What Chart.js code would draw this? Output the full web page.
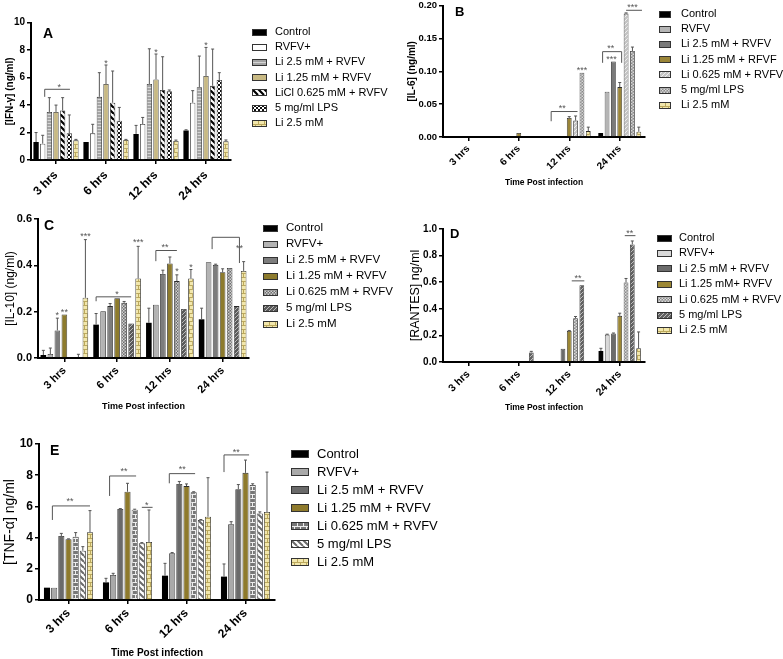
<!DOCTYPE html>
<html>
<head>
<meta charset="utf-8">
<script src="https://cdn.jsdelivr.net/npm/chart.js@4.4.1/dist/chart.umd.min.js"></script>
<style>
body { margin: 0; background: #fff; }
#page { position: relative; width: 783px; height: 659px; overflow: hidden; font-family: Arial, "Liberation Sans", sans-serif; }
#page canvas.chart { position: absolute; }
.tag { position: absolute; font-weight: bold; line-height: 1; color: #000; }
.leg { position: absolute; white-space: nowrap; color: #000; line-height: 1; }
</style>
</head>
<body>
<div id="page"></div>
<script>
const hours = ['3 hrs', '6 hrs', '12 hrs', '24 hrs'];

// A - IFN-gamma
const ifnLabels = ['Control', 'RVFV+', 'Li 2.5 mM + RVFV', 'Li 1.25 mM + RVFV', 'LiCl 0.625 mM + RVFV', '5 mg/ml LPS', 'Li 2.5 mM'];
const ifnMean = [
    [1.31, 1.31, 1.9, 2.14],
    [1.19, 1.94, 2.62, 4.17],
    [3.5, 4.6, 5.53, 5.3],
    [3.5, 5.53, 5.87, 6.12],
    [3.6, 4.17, 5.1, 5.41],
    [1.94, 2.86, 5.0, 5.83],
    [1.43, 1.46, 1.38, 1.36]
];
const ifnSd = [
    [0.69, 0, 0.62, 0.06],
    [0.61, 0.66, 0.48, 0.88],
    [1.04, 1.76, 2.57, 2.27],
    [0.5, 1.39, 1.85, 2.08],
    [0.94, 2.31, 2.42, 2.67],
    [1.34, 0.97, 0.1, 0.53],
    [0.07, 0.04, 0.07, 0.1]
];
// [hour, from bar, to bar, line y, left drop, right drop]
const ifnBrackets = [[0, 1.3, 5.1, 5.15, 4.6, null]];
// [hour, bar, y, text]
const ifnStars = [[0, 3.5, 5.45, '*'], [1, 3, 7.2, '*'], [2, 3, 8.0, '*'], [3, 3, 8.5, '*']];

// B - IL-6
const il6Labels = ['Control', 'RVFV', 'Li 2.5 mM + RVFV', 'Li 1.25 mM + RFVF', 'Li 0.625 mM + RVFV', '5 mg/ml LPS', 'Li  2.5 mM'];
const il6Mean = [
    [0, 0, 0, 0.006],
    [0, 0, 0, 0.069],
    [0, 0, 0, 0.115],
    [0, 0.006, 0.029, 0.076],
    [0, 0, 0.025, 0.188],
    [0, 0, 0.098, 0.131],
    [0, 0, 0.009, 0.008]
];
const il6Sd = [
    [0, 0, 0, 0],
    [0, 0, 0, 0],
    [0, 0, 0, 0],
    [0, 0, 0.002, 0.007],
    [0, 0, 0.007, 0.001],
    [0, 0, 0, 0.006],
    [0, 0, 0.006, 0.007]
];
const il6Brackets = [[2, 0.15, 4.3, 0.0388, 0.024, null], [3, 0.3, 3.3, 0.13, 0.113, 0.113], [3, 4, 6.5, 0.193, null, null]];
const il6Stars = [[2, 1.9, 0.046, '**'], [2, 5, 0.104, '***'], [3, 1.6, 0.138, '**'], [3, 1.7, 0.121, '***'], [3, 5, 0.2, '***']];

// C - IL-10
const il10Labels = ['Control', 'RVFV+', 'Li 2.5 mM + RVFV', 'Li 1.25 mM + RVFV', 'Li 0.625 mM + RVFV', '5 mg/ml LPS', 'Li 2.5 mM'];
const il10Mean = [
    [0.013, 0.144, 0.152, 0.167],
    [0.017, 0.202, 0.23, 0.413],
    [0.119, 0.224, 0.363, 0.402],
    [0.188, 0.258, 0.408, 0.37],
    [0.003, 0.238, 0.332, 0.389],
    [0.004, 0.149, 0.212, 0.224],
    [0.26, 0.343, 0.343, 0.376]
];
const il10Sd = [
    [0.02, 0.048, 0.063, 0.048],
    [0.026, 0, 0, 0],
    [0.053, 0.011, 0.016, 0.003],
    [0, 0, 0.028, 0.015],
    [0, 0.006, 0.027, 0],
    [0.012, 0, 0, 0],
    [0.251, 0.139, 0.039, 0.04]
];
const il10Brackets = [[1, 0, 5, 0.264, 0.245, null], [2, 1, 4, 0.464, 0.418, null], [3, 1.5, 5.4, 0.521, 0.47, 0.41]];
const il10Stars = [[0, 2, 0.19, '*'], [0, 3, 0.205, '**'], [0, 6, 0.535, '***'], [1, 3, 0.282, '*'], [1, 6, 0.507, '***'],
    [2, 2.3, 0.485, '**'], [2, 4, 0.382, '*'], [2, 6, 0.4, '*'], [3, 5.4, 0.482, '**']];

// D - RANTES
const rantesLabels = ['Control', 'RVFV+', 'Li 2.5 mM + RVFV', 'Li 1.25 mM+ RVFV', 'Li 0.625 mM + RVFV', '5 mg/ml LPS', 'Li 2.5 mM'];
const rantesMean = [
    [0, 0, 0, 0.083],
    [0, 0, 0, 0.206],
    [0, 0, 0.1, 0.214],
    [0, 0, 0.234, 0.347],
    [0, 0, 0.329, 0.598],
    [0, 0.072, 0.578, 0.884],
    [0.006, 0.004, 0.004, 0.103]
];
const rantesSd = [
    [0, 0, 0, 0.02],
    [0, 0, 0, 0.003],
    [0, 0, 0, 0.004],
    [0, 0, 0.003, 0.02],
    [0, 0, 0.013, 0.03],
    [0, 0.008, 0, 0.026],
    [0, 0, 0, 0.123]
];
const rantesBrackets = [[2, 3.4, 5.4, 0.61, null, null], [3, 3.8, 5.5, 0.95, null, null]];
const rantesStars = [[2, 4.4, 0.645, '**'], [3, 4.6, 0.978, '**']];

// E - TNF-alpha
const tnfLabels = ['Control', 'RVFV+', 'Li 2.5 mM + RVFV', 'Li 1.25 mM + RVFV', 'Li 0.625 mM + RVFV', '5 mg/ml LPS', 'Li 2.5 mM'];
const tnfMean = [
    [0.79, 1.13, 1.56, 1.5],
    [0.79, 1.6, 2.99, 4.85],
    [4.1, 5.83, 7.44, 7.1],
    [3.89, 6.94, 7.3, 8.15],
    [4.06, 5.79, 6.9, 7.37],
    [3.16, 3.63, 5.13, 5.55],
    [4.34, 3.72, 5.34, 5.64]
];
const tnfSd = [
    [0, 0.26, 0.79, 0.81],
    [0, 0.11, 0.05, 0.17],
    [0.17, 0.03, 0.16, 0.3],
    [0.03, 0.54, 0.14, 0.82],
    [0.26, 0.03, 0.04, 0.08],
    [0.26, 0.05, 0.03, 0.1],
    [1.39, 2.05, 2.5, 2.56]
];
const tnfBrackets = [[0, 0.75, 6, 6.03, 5.13, null], [1, 0.5, 4.2, 7.95, 6.67, null], [1, 5, 6.5, 5.94, null, null],
    [2, 0.6, 4.2, 8.1, 7.48, null], [3, 0, 3.5, 9.3, 8.2, null]];
const tnfStars = [[0, 3.2, 6.45, '**'], [1, 2.5, 8.35, '**'], [1, 5.7, 6.2, '*'], [2, 2.4, 8.5, '**'], [3, 1.7, 9.6, '**']];

const FONT = 'Arial, "Liberation Sans", sans-serif';
const page = document.getElementById('page');

// fill patterns for the bars
function pattern(kind, bg, fg, size, lw) {
    const c = document.createElement('canvas');
    const g = c.getContext('2d');
    size = size || 4;
    if (kind === 'hline') {
        c.width = 4; c.height = size;
        g.fillStyle = bg; g.fillRect(0, 0, 4, size);
        g.fillStyle = fg; g.fillRect(0, 0, 4, 1);
    } else if (kind === 'check') {
        c.width = c.height = size * 2;
        g.fillStyle = bg; g.fillRect(0, 0, size * 2, size * 2);
        g.fillStyle = fg; g.fillRect(0, 0, size, size); g.fillRect(size, size, size, size);
    } else if (kind === 'brick') {
        c.width = 6; c.height = 8;
        g.fillStyle = bg; g.fillRect(0, 0, 6, 8);
        g.fillStyle = fg;
        g.fillRect(0, 0, 6, 1); g.fillRect(0, 4, 6, 1);
        g.fillRect(0, 1, 1, 3); g.fillRect(3, 5, 1, 3);
    } else {
        c.width = c.height = size;
        g.fillStyle = bg; g.fillRect(0, 0, size, size);
        g.strokeStyle = fg; g.lineWidth = lw || 1;
        g.beginPath();
        for (const o of [-size, 0, size]) {
            if (kind === 'fwd') { g.moveTo(o, size); g.lineTo(o + size, 0); }
            else { g.moveTo(o, 0); g.lineTo(o + size, size); }
        }
        g.stroke();
    }
    return g.createPattern(c, 'repeat');
}

const cream = () => pattern('brick', '#f2e7ac', '#bba85c');

const errorBars = {
    id: 'errorBars',
    afterDatasetsDraw(chart) {
        const ctx = chart.ctx, y = chart.scales.y;
        ctx.save();
        ctx.strokeStyle = '#555';
        ctx.lineWidth = 1;
        chart.data.datasets.forEach((ds, i) => {
            chart.getDatasetMeta(i).data.forEach((bar, j) => {
                const sd = ds.sd[j];
                if (!sd) return;
                const top = y.getPixelForValue(ds.data[j] + sd);
                ctx.beginPath();
                ctx.moveTo(bar.x, bar.y);
                ctx.lineTo(bar.x, top);
                ctx.moveTo(bar.x - 1.5, top);
                ctx.lineTo(bar.x + 1.5, top);
                ctx.stroke();
            });
        });
        ctx.restore();
    }
};

function sigPlugin(brackets, stars) {
    return {
        id: 'sig',
        afterDatasetsDraw(chart) {
            const ctx = chart.ctx, y = chart.scales.y;
            const bx = (c, s) => {
                const a = chart.getDatasetMeta(0).data[c].x, b = chart.getDatasetMeta(1).data[c].x;
                return a + (b - a) * s;
            };
            ctx.save();
            ctx.strokeStyle = '#555';
            ctx.fillStyle = '#555';
            ctx.lineWidth = 1;
            brackets.forEach(([c, s1, s2, ly, d1, d2]) => {
                const x1 = bx(c, s1), x2 = bx(c, s2), py = y.getPixelForValue(ly);
                ctx.beginPath();
                if (d1 != null) { ctx.moveTo(x1, y.getPixelForValue(d1)); ctx.lineTo(x1, py); }
                else ctx.moveTo(x1, py);
                ctx.lineTo(x2, py);
                if (d2 != null) ctx.lineTo(x2, y.getPixelForValue(d2));
                ctx.stroke();
            });
            ctx.font = '9px ' + FONT;
            ctx.textAlign = 'center';
            ctx.textBaseline = 'middle';
            stars.forEach(([c, s, sy, txt]) => {
                ctx.fillText(txt, bx(c, s), y.getPixelForValue(sy) + 2);
            });
            ctx.restore();
        }
    };
}

const panels = [
    {
        tag: 'A', labels: ifnLabels, mean: ifnMean, sd: ifnSd, brackets: ifnBrackets, stars: ifnStars,
        fills: ['#000', '#fff', pattern('hline', '#a4a4a4', '#d6d6d6', 3), '#c8b983',
            pattern('back', '#fff', '#000', 6, 2.2), pattern('check', '#111', '#fff', 2), cream()],
        box: [0, 12, 233, 193], yw: 31, xh: 45, padTop: 10.7, max: 10, step: 2, dec: 0,
        yTitle: '[IFN-γ] (ng/ml)', yFont: { size: 10, weight: 'bold' }, yPad: 4, tickSize: 10, catSize: 12, catPad: 4,
        catPct: 0.93, barPct: 0.8,
        tagPos: [43, 26, 14], legend: { x: 252, y: 32, gap: 15.2, sw: 15, sh: 7, tx: 275, size: 11 }
    },
    {
        tag: 'B', labels: il6Labels, mean: il6Mean, sd: il6Sd, brackets: il6Brackets, stars: il6Stars,
        fills: ['#000', '#b5b5b5', '#7a7a7a', '#9a8538', pattern('fwd', '#c4c4c4', '#eeeeee', 4, 1),
            pattern('check', '#8a8a8a', '#d8d8d8', 1.5), cream()],
        box: [400, -2, 247, 190], yw: 43, xh: 51, padTop: 6.3, max: 0.2, step: 0.05, dec: 2,
        yTitle: '[IL-6] (ng/ml)', yFont: { size: 10, weight: 'bold' }, yPad: 6.5, tickSize: 9.5, catSize: 10, catPad: 2,
        xTitle: 'Time Post infection', xSize: 8.5,
        catPct: 0.88, barPct: 0.75,
        tagPos: [455, 5, 13], legend: { x: 659, y: 14, gap: 15.2, sw: 12, sh: 7, tx: 681, size: 11 }
    },
    {
        tag: 'C', labels: il10Labels, mean: il10Mean, sd: il10Sd, brackets: il10Brackets, stars: il10Stars,
        fills: ['#000', '#b3b3b3', '#7d7d7d', '#8d7b2d', pattern('check', '#6e6e6e', '#d0d0d0', 1.5),
            pattern('fwd', '#5a5a5a', '#bbbbbb', 4, 1), cream()],
        box: [0, 205, 251, 207], yw: 38, xh: 54, padTop: 14, max: 0.6, step: 0.2, dec: 1,
        yTitle: '[IL-10] (ng/ml)', yFont: { size: 12 }, yPad: 3.8, tickSize: 11, catSize: 11, catPad: 2,
        xTitle: 'Time Post infection', xSize: 9,
        catPct: 0.93, barPct: 0.8,
        tagPos: [44, 218, 14], legend: { x: 263, y: 228, gap: 16, sw: 15, sh: 7, tx: 286, size: 11.5 }
    },
    {
        tag: 'D', labels: rantesLabels, mean: rantesMean, sd: rantesSd, brackets: rantesBrackets, stars: rantesStars,
        fills: ['#000', '#d9d9d9', '#6b6b6b', '#9c8734', pattern('check', '#8a8a8a', '#dcdcdc', 1.5),
            pattern('fwd', '#606060', '#bdbdbd', 4, 1), cream()],
        box: [400, 215, 247, 198], yw: 43, xh: 51, padTop: 14, max: 1.0, step: 0.2, dec: 1,
        yTitle: '[RANTES] ng/ml', yFont: { size: 12.5 }, yPad: 8, tickSize: 10, catSize: 10.5, catPad: 2,
        xTitle: 'Time Post infection', xSize: 8.5,
        catPct: 0.87, barPct: 0.75,
        tagPos: [450, 227, 13], legend: { x: 657, y: 238, gap: 15.4, sw: 15, sh: 7, tx: 679, size: 11 }
    },
    {
        tag: 'E', labels: tnfLabels, mean: tnfMean, sd: tnfSd, brackets: tnfBrackets, stars: tnfStars,
        fills: ['#000', '#a9a9a9', '#6a6a6a', '#8e7a2c', pattern('brick', '#777777', '#eeeeee'),
            pattern('back', '#ffffff', '#6a6a6a', 6, 2), cream()],
        box: [0, 430, 277, 229], yw: 39, xh: 59, padTop: 14, max: 10, step: 2, dec: 0,
        yTitle: '[TNF-α] ng/ml', yFont: { size: 14 }, yPad: 2, tickSize: 12, catSize: 12, catPad: 2,
        xTitle: 'Time Post infection', xSize: 10,
        catPct: 0.85, barPct: 0.85,
        tagPos: [50, 443, 14], legend: { x: 291, y: 454, gap: 18, sw: 18, sh: 8, tx: 317, size: 13 }
    }
];

function swatch(fill, w, h) {
    const c = document.createElement('canvas');
    c.width = w; c.height = h;
    const g = c.getContext('2d');
    g.fillStyle = fill;
    g.fillRect(0, 0, w, h);
    g.strokeStyle = '#333';
    g.lineWidth = 1;
    g.strokeRect(0.5, 0.5, w - 1, h - 1);
    return c;
}

panels.forEach(p => {
    const [left, top, w, h] = p.box;
    const canvas = document.createElement('canvas');
    canvas.className = 'chart';
    canvas.width = w; canvas.height = h;
    canvas.style.left = left + 'px';
    canvas.style.top = top + 'px';
    canvas.style.width = w + 'px';
    canvas.style.height = h + 'px';
    page.appendChild(canvas);

    const datasets = p.labels.map((label, i) => ({
        label,
        data: p.mean[i],
        sd: p.sd[i],
        backgroundColor: p.fills[i],
        borderColor: '#2b2b2b',
        borderWidth: i === 0 ? 0 : 0.8
    }));

    new Chart(canvas, {
        type: 'bar',
        data: { labels: hours, datasets },
        options: {
            responsive: false,
            animation: false,
            layout: { padding: { left: 0, right: 2, top: p.padTop, bottom: 0 } },
            datasets: { bar: { categoryPercentage: p.catPct, barPercentage: p.barPct } },
            plugins: { legend: { display: false }, tooltip: { enabled: false } },
            scales: {
                x: {
                    ticks: { font: { family: FONT, size: p.catSize, weight: 'bold' }, color: '#000',
                        maxRotation: 45, minRotation: 45, padding: p.catPad },
                    grid: { offset: false, drawOnChartArea: false, tickLength: 4, color: '#000', lineWidth: 1.5 },
                    border: { color: '#000', width: 2 },
                    title: { display: !!p.xTitle, text: p.xTitle || '', color: '#000', padding: 0,
                        font: { family: FONT, size: p.xSize, weight: 'bold' } },
                    afterFit(s) { s.height = p.xh; }
                },
                y: {
                    min: 0, max: p.max,
                    ticks: { stepSize: p.step, color: '#000', padding: 2,
                        font: { family: FONT, size: p.tickSize, weight: 'bold' },
                        callback: v => v.toFixed(p.dec) },
                    grid: { drawOnChartArea: false, tickLength: 4, color: '#000', lineWidth: 1.5 },
                    border: { color: '#000', width: 2 },
                    title: { display: true, text: p.yTitle, color: '#000', padding: { top: p.yPad, bottom: 0 },
                        font: Object.assign({ family: FONT }, p.yFont) },
                    afterFit(s) { s.width = p.yw; }
                }
            }
        },
        plugins: [errorBars, sigPlugin(p.brackets, p.stars)]
    });

    const tag = document.createElement('div');
    tag.className = 'tag';
    tag.textContent = p.tag;
    tag.style.left = p.tagPos[0] + 'px';
    tag.style.top = p.tagPos[1] + 'px';
    tag.style.fontSize = p.tagPos[2] + 'px';
    page.appendChild(tag);

    const L = p.legend;
    p.labels.forEach((label, i) => {
        const cy = L.y + i * L.gap;
        const sw = swatch(p.fills[i], L.sw, L.sh);
        sw.style.position = 'absolute';
        sw.style.left = L.x + 'px';
        sw.style.top = (cy - L.sh / 2) + 'px';
        page.appendChild(sw);
        const t = document.createElement('div');
        t.className = 'leg';
        t.textContent = label;
        t.style.left = L.tx + 'px';
        t.style.top = (cy - L.size * 0.55) + 'px';
        t.style.fontSize = L.size + 'px';
        page.appendChild(t);
    });
});
</script>
</body>
</html>
